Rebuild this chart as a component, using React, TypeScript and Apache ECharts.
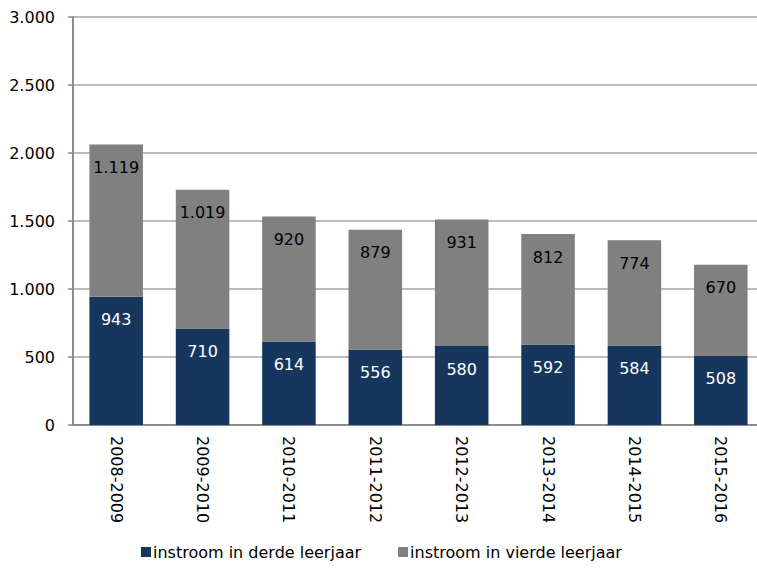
import React, { useEffect, useRef } from "react";
import * as echarts from "echarts";

const categories = ["2008-2009", "2009-2010", "2010-2011", "2011-2012", "2012-2013", "2013-2014", "2014-2015", "2015-2016"];
const derde = [943, 710, 614, 556, 580, 592, 584, 508];
const vierde = [1119, 1019, 920, 879, 931, 812, 774, 670];
const seriesNames = ["instroom in derde leerjaar", "instroom in vierde leerjaar"];

const fmt = (v: number) => String(v).replace(/\B(?=(\d{3})+(?!\d))/g, ".");
const FONT = "DejaVu Sans";

export default function App() {
  const ref = useRef<HTMLDivElement>(null);
  useEffect(() => {
    const chart = echarts.init(ref.current!, null, { renderer: "svg" });
    chart.setOption({
      animation: false,
      textStyle: { fontFamily: FONT },
      grid: { left: 73, width: 691, top: 17, bottom: 144 },
      legend: {
        bottom: 9,
        left: 141,
        padding: 0,
        icon: "rect",
        itemWidth: 10,
        itemHeight: 10,
        itemGap: 37,
        textStyle: { fontSize: 16, color: "#000", fontFamily: FONT, padding: [0, 0, 0, -3] },
        data: seriesNames,
      },
      xAxis: {
        type: "category",
        data: categories,
        axisLine: { lineStyle: { color: "#8c8c8c", width: 2 } },
        axisTick: { show: false },
        axisLabel: { rotate: -90, fontSize: 16, color: "#000", margin: 11, fontFamily: FONT },
      },
      yAxis: {
        type: "value",
        min: 0,
        max: 3000,
        interval: 500,
        axisLine: { show: true, lineStyle: { color: "#8c8c8c", width: 2 } },
        axisTick: { show: true, length: 5, lineStyle: { color: "#8c8c8c", width: 1.5 } },
        splitLine: { lineStyle: { color: "#a6a6a6", width: 1.5 } },
        axisLabel: { fontSize: 16, color: "#000", margin: 18, fontFamily: FONT, formatter: (v: number) => fmt(v) },
      },
      series: [
        {
          name: seriesNames[0],
          type: "bar",
          stack: "s",
          data: derde,
          barWidth: "62%",
          itemStyle: { color: "#17365d" },
          label: { show: true, position: "insideTop", distance: 15, color: "#fff", fontSize: 16, fontFamily: FONT, formatter: (p: any) => fmt(p.value) },
        },
        {
          name: seriesNames[1],
          type: "bar",
          stack: "s",
          data: vierde,
          barWidth: "62%",
          itemStyle: { color: "#808080" },
          label: { show: true, position: "insideTop", distance: 15, color: "#000", fontSize: 16, fontFamily: FONT, formatter: (p: any) => fmt(p.value) },
        },
      ],
    });
    return () => chart.dispose();
  }, []);
  return (
    <div style={{ position: "fixed", left: 0, top: 0, width: 757, height: 569, overflow: "hidden", background: "#fff" }}>
      <div ref={ref} style={{ width: 770, height: 569 }} />
    </div>
  );
}
